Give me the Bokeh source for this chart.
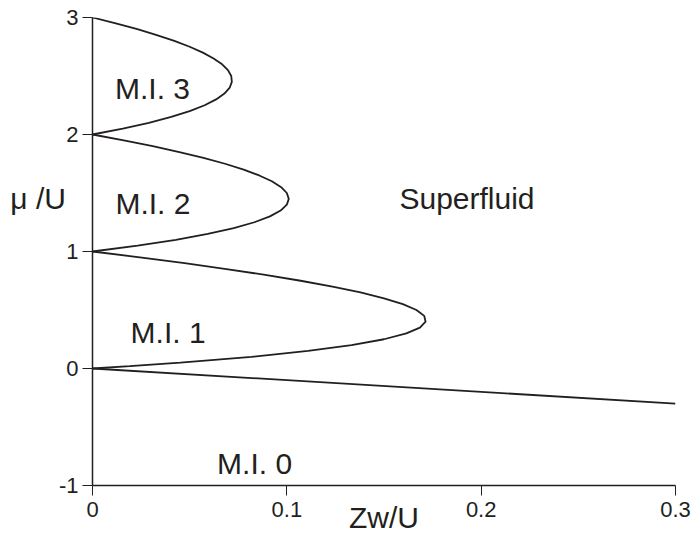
from bokeh.plotting import figure
from bokeh.models import Label, FixedTicker, Range1d
from bokeh.embed import file_html
from bokeh.resources import INLINE

# Mott lobe boundaries (mu/U, Zw/U)
mu_lobe1 = [0.0, 0.02, 0.05, 0.10, 0.15, 0.20, 0.25, 0.30, 0.35, 0.40, 0.45,
            0.50, 0.55, 0.60, 0.65, 0.70, 0.75, 0.80, 0.85, 0.90, 0.95, 1.0]
zw_lobe1 = [0.0, 0.0192, 0.0452, 0.0818, 0.1109, 0.1333, 0.150, 0.1615, 0.1685, 0.1714, 0.1707,
            0.1667, 0.1597, 0.150, 0.1379, 0.1235, 0.1071, 0.0889, 0.0689, 0.0474, 0.0244, 0.0]

mu_lobe2 = [1.0, 1.05, 1.10, 1.15, 1.20, 1.25, 1.30, 1.35, 1.40, 1.45, 1.50,
            1.55, 1.60, 1.65, 1.70, 1.75, 1.80, 1.85, 1.90, 1.95, 2.0]
zw_lobe2 = [0.0, 0.0232, 0.0429, 0.0593, 0.0727, 0.0833, 0.0913, 0.0968, 0.100, 0.1010, 0.100,
            0.0971, 0.0923, 0.0858, 0.0778, 0.0682, 0.0571, 0.0447, 0.0310, 0.0161, 0.0]

mu_lobe3 = [2.0, 2.05, 2.10, 2.15, 2.20, 2.25, 2.30, 2.35, 2.40, 2.45, 2.50,
            2.55, 2.60, 2.65, 2.70, 2.75, 2.80, 2.85, 2.90, 2.95, 3.0]
zw_lobe3 = [0.0, 0.0156, 0.0290, 0.0405, 0.050, 0.0577, 0.0636, 0.0679, 0.0706, 0.0717, 0.0714,
            0.0697, 0.0667, 0.0623, 0.0568, 0.050, 0.0421, 0.0331, 0.0231, 0.0120, 0.0]

# M.I. 0 boundary
zw_lobe0 = [0.0, 0.3]
mu_lobe0 = [0.0, -0.3]

x_ticks = [0, 0.1, 0.2, 0.3]
x_tick_labels = ["0", "0.1", "0.2", "0.3"]
y_ticks = [-1, 0, 1, 2, 3]
y_tick_labels = ["-1", "0", "1", "2", "3"]

region_names = ["M.I. 3", "M.I. 2", "M.I. 1", "M.I. 0", "Superfluid"]
x_title = "Zw/U"
y_title = "\u03bc /U"

INK = "#231f20"
FONT = "Liberation Sans"

p = figure(width=692, height=543, output_backend="svg", toolbar_location=None,
           x_range=Range1d(0, 0.3), y_range=Range1d(-1, 3),
           min_border_left=92, min_border_right=17, min_border_top=17, min_border_bottom=58)
p.outline_line_color = None
p.xgrid.visible = False
p.ygrid.visible = False
p.background_fill_color = "white"
p.border_fill_color = "white"

for xs, ys in [(zw_lobe1, mu_lobe1), (zw_lobe2, mu_lobe2), (zw_lobe3, mu_lobe3), (zw_lobe0, mu_lobe0)]:
    p.line(xs, ys, line_color=INK, line_width=1.8)

for ax, ticks, labels in [(p.xaxis[0], x_ticks, x_tick_labels), (p.yaxis[0], y_ticks, y_tick_labels)]:
    ax.ticker = FixedTicker(ticks=ticks)
    ax.major_label_overrides = {t: l for t, l in zip(ticks, labels)}
    ax.minor_tick_line_color = None
    ax.major_tick_in = 0
    ax.major_tick_out = 10
    ax.axis_line_color = INK
    ax.axis_line_width = 1.5
    ax.major_tick_line_color = INK
    ax.major_tick_line_width = 1
    ax.major_label_text_font = FONT
    ax.major_label_text_font_size = "22px"
    ax.major_label_text_color = INK
    ax.axis_label_text_font = FONT
    ax.axis_label_text_font_size = "30px"
    ax.axis_label_text_font_style = "normal"
    ax.axis_label_text_color = INK

p.xaxis.major_label_standoff = 6
p.yaxis.major_label_standoff = 4

p.xaxis.axis_label = x_title
p.xaxis.axis_label_standoff = -19

# horizontal y title; trailing blank lines lift it above the frame centre
p.yaxis.axis_label = y_title + "\n \n \n "
p.yaxis.axis_label_orientation = "horizontal"
p.yaxis.axis_label_standoff = -10
p.yaxis.axis_label_text_line_height = 1.07

label_style = dict(text_font=FONT, text_font_size="30px", text_color=INK,
                   text_baseline="alphabetic")

positions = [(0.0309, 2.393), (0.0311, 1.410), (0.0389, 0.310), (0.0834, -0.809), (0.1927, 1.457)]
for name, (lx, ly) in zip(region_names, positions):
    p.add_layout(Label(x=lx, y=ly, text=name, text_align="center", **label_style))

open("out.html", "w").write(file_html(p, INLINE))
